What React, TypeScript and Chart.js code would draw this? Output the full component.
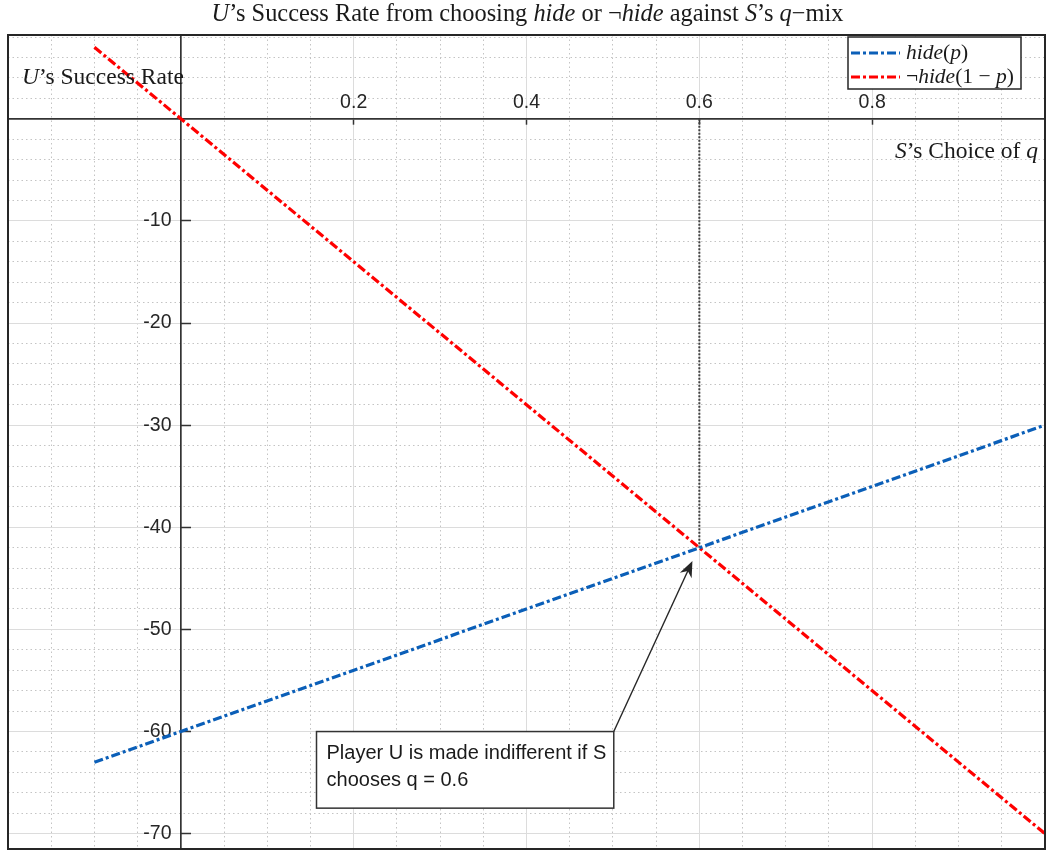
import React, { useEffect, useRef } from 'react';
import { Chart, registerables } from 'chart.js';

Chart.register(...registerables);

// ---------- data ----------
const qValues = [-0.1, 0, 0.6, 1.0];
const hideValues = [-63, -60, -42, -30];
const notHideValues = [7, 0, -42, -70];
const equilibriumQ = 0.6;
const equilibriumRate = -42;

const xTickValues = [0.2, 0.4, 0.6, 0.8];
const yTickValues = [-70, -60, -50, -40, -30, -20, -10];
const xRange = [-0.2, 1.0];
const yRange = [-71.5, 8.2];
const xMinorStep = 0.05;
const yMinorStep = 2;

const annotationLines = ['Player U is made indifferent if S', 'chooses q = 0.6'];
const annotationBox = { q0: 0.157, q1: 0.501, y0: -60.0, y1: -67.5 };
const arrowTip = { q: 0.592, y: -43.3 };

type Seg = [string, boolean];
const titleSegments: Seg[] = [
  ['U', true], ['’s Success Rate from choosing ', false], ['hide', true], [' or ¬', false],
  ['hide', true], [' against ', false], ['S', true], ['’s ', false], ['q', true], ['−mix', false],
];
const yLabelSegments: Seg[] = [['U', true], ['’s Success Rate', false]];
const xLabelSegments: Seg[] = [['S', true], ['’s Choice of ', false], ['q', true]];
const legendEntries: { segs: Seg[]; color: string }[] = [
  { segs: [['hide', true], ['(', false], ['p', true], [')', false]], color: '#0b5fb8' },
  { segs: [['¬', false], ['hide', true], ['(1 − ', false], ['p', true], [')', false]], color: '#ff0000' },
];

const SERIF = '"Liberation Serif", "Times New Roman", serif';
const SANS = '"Liberation Sans", Arial, Helvetica, sans-serif';
const DARK = '#262626';
const DASH_DOT = [9, 3, 3, 3];

function drawRich(ctx: CanvasRenderingContext2D, segs: Seg[], x: number, y: number, size: number, align: 'left' | 'center' | 'right') {
  const widths = segs.map(([t, it]) => {
    ctx.font = `${it ? 'italic ' : ''}${size}px ${SERIF}`;
    return ctx.measureText(t).width;
  });
  const total = widths.reduce((a, b) => a + b, 0);
  let cx = align === 'left' ? x : align === 'center' ? x - total / 2 : x - total;
  ctx.textAlign = 'left';
  ctx.textBaseline = 'alphabetic';
  segs.forEach(([t, it], i) => {
    ctx.font = `${it ? 'italic ' : ''}${size}px ${SERIF}`;
    ctx.fillText(t, cx, y);
    cx += widths[i];
  });
}

const decorPlugin = {
  id: 'decor',
  afterDraw(chart: any) {
    const ctx: CanvasRenderingContext2D = chart.ctx;
    const area = chart.chartArea;
    const xs = chart.scales.x;
    const ys = chart.scales.y;
    ctx.save();

    // axes box
    ctx.strokeStyle = DARK;
    ctx.lineWidth = 2;
    ctx.setLineDash([]);
    ctx.strokeRect(area.left, area.top, area.right - area.left, area.bottom - area.top);

    // title & axis labels
    ctx.fillStyle = '#1a1a1a';
    drawRich(ctx, titleSegments, (area.left + area.right) / 2 + 1, 21, 24.4, 'center');
    drawRich(ctx, yLabelSegments, area.left + 14, 84, 23.5, 'left');
    drawRich(ctx, xLabelSegments, area.right - 7, 158, 23.5, 'right');

    // legend
    const lw = 173, lh = 52;
    const lx = area.right - 24 - lw, ly = area.top + 2;
    ctx.fillStyle = '#ffffff';
    ctx.fillRect(lx, ly, lw, lh);
    ctx.strokeStyle = DARK;
    ctx.lineWidth = 1.5;
    ctx.strokeRect(lx, ly, lw, lh);
    legendEntries.forEach((e, i) => {
      const cy = ly + 16 + i * 24;
      ctx.strokeStyle = e.color;
      ctx.lineWidth = 3.2;
      ctx.setLineDash(DASH_DOT);
      ctx.beginPath();
      ctx.moveTo(lx + 3, cy);
      ctx.lineTo(lx + 52, cy);
      ctx.stroke();
      ctx.setLineDash([]);
      ctx.fillStyle = '#1a1a1a';
      drawRich(ctx, e.segs, lx + 58, cy + 6, 21.5, 'left');
    });

    // annotation box
    const bx0 = xs.getPixelForValue(annotationBox.q0);
    const bx1 = xs.getPixelForValue(annotationBox.q1);
    const by0 = ys.getPixelForValue(annotationBox.y0);
    const by1 = ys.getPixelForValue(annotationBox.y1);
    ctx.fillStyle = '#ffffff';
    ctx.fillRect(bx0, by0, bx1 - bx0, by1 - by0);
    ctx.strokeStyle = '#333333';
    ctx.lineWidth = 1.5;
    ctx.strokeRect(bx0, by0, bx1 - bx0, by1 - by0);
    ctx.fillStyle = '#1a1a1a';
    ctx.font = `20px ${SANS}`;
    ctx.textAlign = 'left';
    ctx.textBaseline = 'alphabetic';
    annotationLines.forEach((t, i) => ctx.fillText(t, bx0 + 10, by0 + 27 + i * 27));

    // arrow
    const tx = xs.getPixelForValue(arrowTip.q);
    const ty = ys.getPixelForValue(arrowTip.y);
    const ang = Math.atan2(ty - by0, tx - bx1);
    ctx.strokeStyle = DARK;
    ctx.lineWidth = 1.4;
    ctx.beginPath();
    ctx.moveTo(bx1, by0);
    ctx.lineTo(tx - 10 * Math.cos(ang), ty - 10 * Math.sin(ang));
    ctx.stroke();
    const L = 16, W = 6.5;
    const ux = Math.cos(ang), uy = Math.sin(ang);
    ctx.fillStyle = DARK;
    ctx.beginPath();
    ctx.moveTo(tx, ty);
    ctx.lineTo(tx - L * ux - W * uy, ty - L * uy + W * ux);
    ctx.lineTo(tx - (L - 5) * ux, ty - (L - 5) * uy);
    ctx.lineTo(tx - L * ux + W * uy, ty - L * uy - W * ux);
    ctx.closePath();
    ctx.fill();

    ctx.restore();
  },
};

const zeroPad = (scale: any) => {
  scale.paddingTop = 0;
  scale.paddingBottom = 0;
  scale.paddingLeft = 0;
  scale.paddingRight = 0;
};

const isMultiple = (v: number, step: number) => Math.abs(v / step - Math.round(v / step)) < 1e-6;

export default function App() {
  const ref = useRef<HTMLCanvasElement | null>(null);

  useEffect(() => {
    if (!ref.current) return;
    const chart = new Chart(ref.current, {
      type: 'line',
      data: {
        datasets: [
          {
            label: 'hide(p)',
            data: qValues.map((q, i) => ({ x: q, y: hideValues[i] })),
            borderColor: '#0b5fb8',
            borderWidth: 3.2,
            borderDash: DASH_DOT,
            pointRadius: 0,
            fill: false,
          },
          {
            label: '¬hide(1 − p)',
            data: qValues.map((q, i) => ({ x: q, y: notHideValues[i] })),
            borderColor: '#ff0000',
            borderWidth: 3.2,
            borderDash: DASH_DOT,
            pointRadius: 0,
            fill: false,
          },
          {
            label: 'q = 0.6',
            data: [
              { x: equilibriumQ, y: 0 },
              { x: equilibriumQ, y: equilibriumRate },
            ],
            borderColor: '#404040',
            borderWidth: 2,
            borderDash: [2, 1.5],
            pointRadius: 0,
            fill: false,
          },
        ],
      },
      options: {
        responsive: false,
        animation: false,
        layout: { padding: { left: 8, top: 35, right: 2, bottom: 2 } },
        plugins: {
          legend: { display: false },
          title: { display: false },
          tooltip: { enabled: false },
        },
        scales: {
          xMinor: {
            type: 'linear',
            axis: 'x',
            position: { y: 0 },
            min: xRange[0],
            max: xRange[1],
            ticks: { display: false, stepSize: xMinorStep, autoSkip: false, includeBounds: false },
            grid: {
              drawTicks: false,
              lineWidth: 1,
              color: (c: any) => (isMultiple(c.tick.value, 0.2) ? 'rgba(0,0,0,0)' : '#c4c4c4'),
            },
            border: { display: false, dash: [1.5, 3] },
            afterFit: zeroPad,
          },
          yMinor: {
            type: 'linear',
            axis: 'y',
            position: { x: 0 },
            min: yRange[0],
            max: yRange[1],
            ticks: { display: false, stepSize: yMinorStep, autoSkip: false, includeBounds: false },
            grid: {
              drawTicks: false,
              lineWidth: 1,
              color: (c: any) => (isMultiple(c.tick.value, 10) ? 'rgba(0,0,0,0)' : '#c4c4c4'),
            },
            border: { display: false, dash: [1.5, 3] },
            afterFit: zeroPad,
          },
          x: {
            type: 'linear',
            position: { y: 0 },
            min: xRange[0],
            max: xRange[1],
            afterBuildTicks: (scale: any) => {
              scale.ticks = xTickValues.map((v) => ({ value: v }));
            },
            ticks: {
              autoSkip: false,
              maxRotation: 0,
              padding: -32.5,
              color: DARK,
              font: { family: SANS, size: 19.5 },
              callback: (v: any) => String(v),
            },
            grid: {
              color: '#dcdcdc',
              lineWidth: 1,
              drawTicks: true,
              tickLength: 5,
              tickColor: '#333333',
              tickWidth: 1.5,
            },
            border: { display: true, color: '#333333', width: 1.7 },
            afterFit: zeroPad,
          },
          y: {
            type: 'linear',
            position: { x: 0 },
            min: yRange[0],
            max: yRange[1],
            afterBuildTicks: (scale: any) => {
              scale.ticks = yTickValues.map((v) => ({ value: v }));
            },
            ticks: {
              autoSkip: false,
              padding: 19,
              color: DARK,
              font: { family: SANS, size: 19.5 },
              callback: (v: any) => String(v) + ' \u2009',
            },
            grid: {
              color: '#dcdcdc',
              lineWidth: 1,
              drawTicks: true,
              tickLength: -11,
              tickColor: '#333333',
              tickWidth: 1.5,
            },
            border: { display: true, color: '#333333', width: 1.7 },
            afterFit: zeroPad,
          },
        },
      } as any,
      plugins: [decorPlugin],
    });
    return () => chart.destroy();
  }, []);

  return (
    <div style={{ position: 'fixed', left: 0, top: 0, width: 1047, height: 851, background: '#ffffff' }}>
      <canvas ref={ref} width={1047} height={851} style={{ display: 'block' }} />
    </div>
  );
}
